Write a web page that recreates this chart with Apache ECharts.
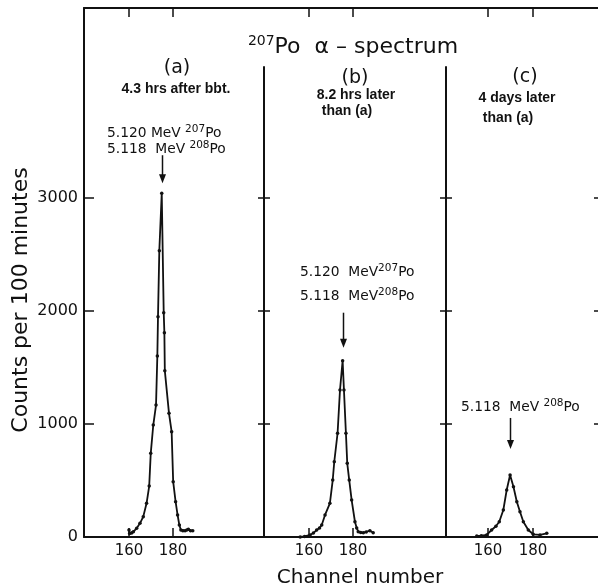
<!DOCTYPE html>
<html><head><meta charset="utf-8">
<script src="https://cdn.jsdelivr.net/npm/echarts@6/dist/echarts.min.js"></script>
<style>html,body{margin:0;padding:0;background:#fff}#c{width:598px;height:588px}</style>
</head><body><div id="c"></div>
<script>
// ---- data ----
const channelsA = [160, 160.3, 161.2, 162, 163.5, 165, 166.5, 168.0, 169.2, 169.9, 171.05, 172.3, 172.9, 173.2, 173.8, 174.9, 175.8, 176.1, 176.3, 178.2, 179.4, 180.1, 181.2, 182.1, 182.9, 183.6, 184.5, 185.5, 186.3, 187, 188, 189];
const countsA   = [62, 32, 35, 47, 77, 121, 180, 298, 451, 740, 991, 1168, 1602, 1950, 2534, 3042, 1985, 1808, 1472, 1094, 932, 490, 313, 195, 106, 62, 55, 56, 62, 68, 55, 56];
const channelsB = [156, 158, 160.5, 162, 163.5, 164.8, 165.8, 167.3, 169.5, 170.8, 171.5, 173.0, 174.1, 175.3, 175.9, 176.8, 177.4, 178.3, 179.4, 180.9, 181.7, 182.4, 183.5, 184.7, 186, 187.7, 189.2];
const countsB   = [0, 5, 18, 35, 62, 80, 106, 195, 298, 504, 666, 918, 1301, 1560, 1301, 918, 652, 504, 327, 135, 80, 47, 40, 38, 45, 56, 38];
const channelsC = [155, 157, 159.4, 161.6, 163.5, 165.0, 166.8, 168.3, 169.8, 171.3, 172.8, 174.2, 175.7, 177.9, 180.1, 183.1, 186.1];
const countsC   = [9, 12, 18, 62, 95, 135, 239, 416, 549, 445, 312, 224, 135, 62, 24, 18, 33];
const xTickValues = [160, 180];
const yTickValues = [1000, 2000, 3000];
const yLabelValues = [0, 1000, 2000, 3000];
const panelTags = ['(a)', '(b)', '(c)'];
const panelNotes = [['4.3 hrs after bbt.'], ['8.2 hrs later', 'than (a)'], ['4 days later', 'than (a)']];
const peakLabels = [
  ['5.120 MeV {s|207}Po', '5.118  MeV {s|208}Po'],
  ['5.120  MeV{s|207}Po', '5.118  MeV{s|208}Po'],
  ['5.118  MeV {s|208}Po']
];
const titleText = '{s|207}Po  α – spectrum';
const yName = 'Counts per 100 minutes';
const xName = 'Channel number';

// ---- layout ----
const FONT = 'DejaVu Sans';
const TOP = 8, BOTTOM = 537, DIV_TOP = 67;
const H = BOTTOM - TOP;
const Y_MAX = 4681;
const DIV_MAX = Y_MAX * (BOTTOM - DIV_TOP) / H;
const panels = [
  {left: 84, width: 180, xMin: 139.55, xMax: 221.4},
  {left: 264, width: 182, xMin: 139.55, xMax: 222.3},
  {left: 446, width: 155, xMin: 141.33, xMax: 210.2}
];
const seriesData = [[channelsA, countsA], [channelsB, countsB], [channelsC, countsC]];
const black = '#111';
const axisLine = {show: true, onZero: false, lineStyle: {color: black, width: 2}};

const grids = [], xAxes = [], yAxes = [], series = [];
panels.forEach((p, i) => {
  grids.push({left: p.left, top: TOP, width: p.width, height: H, outerBoundsMode: 'none'});
});
const divGrids = [
  {left: 84, width: 180},
  {left: 264, width: 182},
  {left: 446, width: 155}
];
divGrids.forEach(d => grids.push({left: d.left, top: DIV_TOP, width: d.width, height: BOTTOM - DIV_TOP, outerBoundsMode: 'none'}));

panels.forEach((p, i) => xAxes.push({
  type: 'value', gridIndex: i, position: 'bottom', min: p.xMin, max: p.xMax,
  axisLine: axisLine,
  axisTick: {show: true, inside: true, length: 9, customValues: xTickValues, lineStyle: {color: black, width: 1.5}},
  axisLabel: {show: true, customValues: xTickValues, margin: 7, fontSize: 15, fontFamily: FONT, color: black, formatter: v => String(v)},
  splitLine: {show: false}
}));
panels.forEach((p, i) => xAxes.push({
  type: 'value', gridIndex: i, position: 'top', min: p.xMin, max: p.xMax,
  axisLine: axisLine,
  axisTick: {show: true, inside: true, length: 9, customValues: xTickValues, lineStyle: {color: black, width: 1.5}},
  axisLabel: {show: false}, splitLine: {show: false}
}));
divGrids.forEach((d, k) => xAxes.push({type: 'value', gridIndex: 3 + k, show: false, min: 0, max: 1}));

yAxes.push({
  type: 'value', gridIndex: 0, position: 'left', min: 0, max: Y_MAX,
  axisLine: axisLine,
  axisTick: {show: true, inside: true, length: 10, customValues: yTickValues, lineStyle: {color: black, width: 1.5}},
  axisLabel: {show: true, customValues: yLabelValues, margin: 6, fontSize: 16, fontFamily: FONT, color: black, formatter: v => String(v)},
  splitLine: {show: false}
});
yAxes.push({type: 'value', gridIndex: 1, position: 'left', min: 0, max: Y_MAX, axisLine: {show: false}, axisTick: {show: false}, axisLabel: {show: false}, splitLine: {show: false}});
yAxes.push({type: 'value', gridIndex: 2, position: 'left', min: 0, max: Y_MAX, axisLine: {show: false}, axisTick: {show: false}, axisLabel: {show: false}, splitLine: {show: false}});
yAxes.push({
  type: 'value', gridIndex: 2, position: 'right', min: 0, max: Y_MAX,
  axisLine: {show: false, onZero: false},
  axisTick: {show: true, inside: true, length: 7, customValues: yTickValues, lineStyle: {color: black, width: 1.5}},
  axisLabel: {show: false}, splitLine: {show: false}
});
const divTick = (side, g, line) => ({
  type: 'value', gridIndex: g, position: side, min: 0, max: DIV_MAX,
  axisLine: line ? axisLine : {show: false, onZero: false},
  axisTick: {show: true, inside: true, length: 6, customValues: yTickValues, lineStyle: {color: black, width: 1.5}},
  axisLabel: {show: false}, splitLine: {show: false}
});
yAxes.push(divTick('right', 3, true));
yAxes.push(divTick('left', 4, false));
yAxes.push(divTick('right', 4, true));
yAxes.push(divTick('left', 5, false));

seriesData.forEach(([ch, ct], i) => series.push({
  type: 'line', xAxisIndex: i, yAxisIndex: i,
  data: ch.map((c, j) => [c, ct[j]]),
  symbol: 'circle', symbolSize: 3.5, showSymbol: true,
  lineStyle: {color: black, width: 1.8}, itemStyle: {color: black},
  smooth: false, animation: false, silent: true
}));

const chart = echarts.init(document.getElementById('c'), null, {renderer: 'canvas'});
chart.setOption({
  backgroundColor: '#fff', animation: false,
  grid: grids, xAxis: xAxes, yAxis: yAxes, series: series
});

// ---- annotations ----
const supRich = (sfs, raise) => ({s: {fontSize: sfs, fontFamily: FONT, fill: black, padding: [0, 0, raise, 0]}});
const txt = (text, x, y, o) => Object.assign({
  type: 'text', x: x, y: y, silent: true,
  style: Object.assign({text: text, fontFamily: FONT, fontSize: 14, fill: black, align: 'center', verticalAlign: 'middle'}, (o && o.style) || {})
}, o && o.rotation ? {rotation: o.rotation} : {});

const g = [];
g.push(txt(titleText, 353, 47, {style: {fontSize: 22, rich: supRich(14, 11)}}));
const tagPos = [[177, 68], [355, 78], [525, 77]];
panelTags.forEach((t, i) => g.push(txt(t, tagPos[i][0], tagPos[i][1], {style: {fontSize: 19}})));
const notePos = [[[176, 89]], [[356, 95], [347, 111]], [[517, 98], [508, 118]]];
panelNotes.forEach((lines, i) => lines.forEach((l, k) =>
  g.push(txt(l, notePos[i][k][0], notePos[i][k][1], {style: {fontSize: 14, fontWeight: 'bold', fontFamily: 'Liberation Sans'}}))));
const labPos = [[[107, 133], [107, 149]], [[300, 272], [300, 296]], [[461, 407]]];
peakLabels.forEach((lines, i) => lines.forEach((l, k) =>
  g.push(txt(l, labPos[i][k][0], labPos[i][k][1], {style: {fontSize: 13.8, align: 'left', rich: supRich(10.5, 8)}}))));
g.push(txt(yName, 21, 300, {rotation: Math.PI / 2, style: {fontSize: 22}}));
g.push(txt(xName, 360, 578, {style: {fontSize: 20}}));

const arrowGap = [10, 13, 26], arrowLen = [28, 35, 31];
seriesData.forEach(([ch, ct], i) => {
  let m = 0; ct.forEach((v, j) => { if (v > ct[m]) m = j; });
  const p = chart.convertToPixel({xAxisIndex: i, yAxisIndex: i}, [ch[m], ct[m]]);
  const x = Math.round(p[0]) + 0.5, tip = p[1] - arrowGap[i];
  g.push({type: 'line', silent: true, shape: {x1: x, y1: tip - arrowLen[i], x2: x, y2: tip - 4}, style: {stroke: black, lineWidth: 1.5}});
  g.push({type: 'polygon', silent: true, shape: {points: [[x - 3.5, tip - 9], [x + 3.5, tip - 9], [x, tip]]}, style: {fill: black}});
});
chart.setOption({graphic: {elements: g}});
</script></body></html>
